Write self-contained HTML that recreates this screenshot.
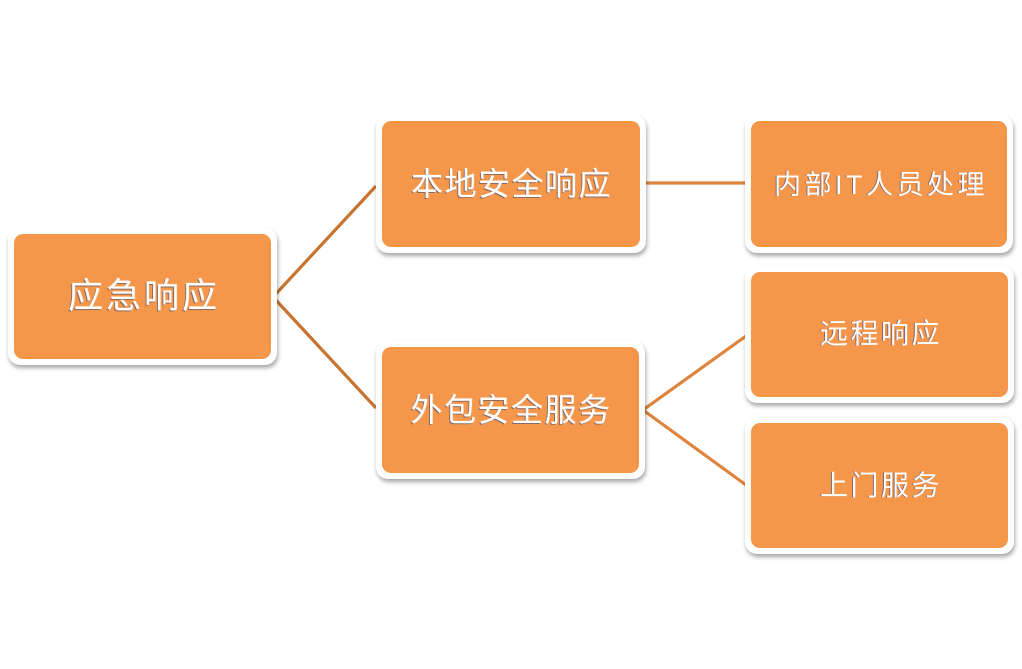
<!DOCTYPE html>
<html><head><meta charset="utf-8">
<style>
html,body{margin:0;padding:0;background:#fff;}
body{width:1022px;height:669px;position:relative;overflow:hidden;font-family:"Liberation Sans","Noto Sans CJK SC",sans-serif;}
.b{position:absolute;background:#fff;border-radius:12px;box-shadow:1px 3px 4px rgba(0,0,0,0.35);}
.o{position:absolute;left:6px;top:6px;right:6px;bottom:6px;background:#f5974a;border-radius:9px;display:flex;align-items:center;justify-content:center;color:#fff;white-space:nowrap;}
.t1{text-shadow:-1px 1px 0 rgba(70,70,100,0.6),0 0 1px rgba(255,255,255,0.8);}
.t2{text-shadow:-1px 0 0 rgba(40,60,140,0.55);}
svg{position:absolute;left:0;top:0;}
</style></head><body>
<svg width="1022" height="669">
<line x1="273" y1="297" x2="376" y2="186" stroke="#c8742f" stroke-width="3.2"/>
<line x1="273" y1="297" x2="376" y2="408" stroke="#c8742f" stroke-width="3.2"/>
<line x1="643" y1="183" x2="746" y2="183" stroke="#df843c" stroke-width="3.2"/>
<line x1="643" y1="410" x2="746" y2="336" stroke="#df843c" stroke-width="3.2"/>
<line x1="643" y1="410" x2="746" y2="485" stroke="#df843c" stroke-width="3.2"/>
</svg>
<div class="b" style="left:8px;top:228px;width:269px;height:137px;"><div class="o t1" style="font-size:35px;letter-spacing:3px;padding-left:3px;padding-bottom:6px;">应急响应</div></div>
<div class="b" style="left:376px;top:115px;width:270px;height:138px;"><div class="o t1" style="font-size:32px;letter-spacing:1.5px;padding-left:1px;padding-bottom:4px;">本地安全响应</div></div>
<div class="b" style="left:745px;top:115px;width:268px;height:138px;"><div class="o t2" style="font-size:27px;letter-spacing:3.5px;padding-left:4px;padding-bottom:4px;">内部IT人员处理</div></div>
<div class="b" style="left:376px;top:341px;width:269px;height:138px;"><div class="o t1" style="font-size:32px;letter-spacing:1.5px;padding-left:1px;padding-bottom:4px;">外包安全服务</div></div>
<div class="b" style="left:745px;top:266px;width:269px;height:137px;"><div class="o t2" style="font-size:28px;letter-spacing:2.5px;padding-left:3px;padding-bottom:6px;">远程响应</div></div>
<div class="b" style="left:745px;top:417px;width:269px;height:137px;"><div class="o t2" style="font-size:28px;letter-spacing:2.5px;padding-left:3px;padding-bottom:4px;">上门服务</div></div>
</body></html>
